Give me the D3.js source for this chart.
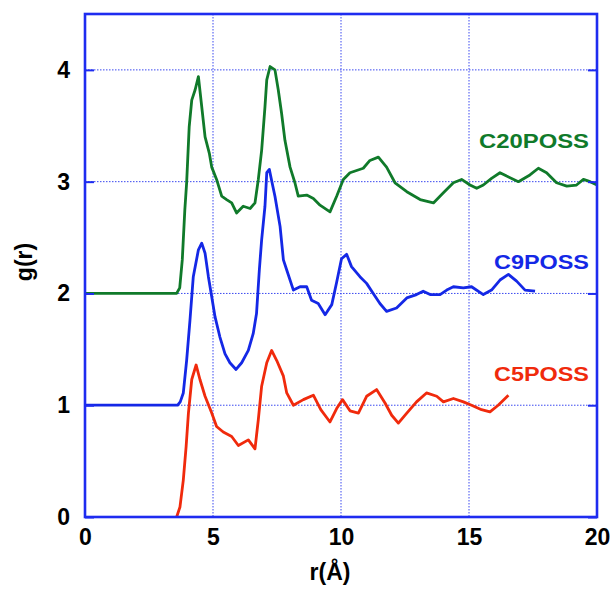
<!DOCTYPE html>
<html>

<head>
    <meta charset="utf-8">
    <title>g(r) POSS</title>
    <script src="https://d3js.org/d3.v7.min.js"></script>
    <style>
        body { margin: 0; background: #fff; }
        text { font-family: "Liberation Sans", Arial, Helvetica, sans-serif; font-weight: bold; }
    </style>
</head>

<body>
<script>
    // values (curves already shifted: C9 by +1, C20 by +2)
    var seriesNames = ["C20POSS", "C9POSS", "C5POSS"];
    var seriesColors = ["#107a2a", "#1428e6", "#f02a0c"];

    var rC20 = [0, 3.58, 3.7, 3.8, 3.9, 3.97, 4.07, 4.17, 4.3, 4.43, 4.56, 4.69, 4.86, 4.95, 5.14, 5.34, 5.53, 5.73, 5.92, 6.18, 6.45, 6.64, 6.77, 6.9, 7.03, 7.1, 7.23, 7.42, 7.55, 7.68, 7.81, 8.01, 8.2, 8.33, 8.66, 8.92, 9.18, 9.57, 9.83, 10.09, 10.35, 10.87, 11.13, 11.46, 11.78, 12.11, 12.57, 13.09, 13.61, 14.0, 14.39, 14.71, 15.04, 15.3, 15.56, 15.88, 16.21, 16.47, 16.93, 17.38, 17.71, 18.03, 18.42, 18.82, 19.2, 19.47, 19.73, 20];
    var gC20 = [2, 2, 2.05, 2.3, 2.75, 2.99, 3.49, 3.73, 3.82, 3.94, 3.67, 3.4, 3.25, 3.13, 3.02, 2.87, 2.84, 2.81, 2.72, 2.78, 2.76, 2.81, 3.02, 3.28, 3.67, 3.91, 4.03, 4.0, 3.82, 3.61, 3.37, 3.13, 2.99, 2.87, 2.88, 2.85, 2.79, 2.73, 2.87, 3.02, 3.08, 3.12, 3.19, 3.22, 3.13, 2.99, 2.91, 2.84, 2.81, 2.9, 2.99, 3.02, 2.97, 2.94, 2.97, 3.03, 3.08, 3.05, 3.0, 3.06, 3.12, 3.08, 2.99, 2.96, 2.97, 3.02, 3.0, 2.97];

    var rC9 = [0, 3.62, 3.72, 3.84, 3.97, 4.1, 4.23, 4.43, 4.56, 4.69, 4.82, 4.95, 5.08, 5.27, 5.47, 5.66, 5.9, 6.12, 6.38, 6.57, 6.7, 6.81, 6.9, 7.03, 7.1, 7.2, 7.3, 7.42, 7.62, 7.75, 7.88, 8.14, 8.4, 8.66, 8.85, 9.11, 9.38, 9.64, 9.83, 10.02, 10.22, 10.41, 10.74, 11.0, 11.26, 11.52, 11.78, 12.17, 12.57, 12.95, 13.21, 13.48, 13.87, 14.13, 14.39, 14.78, 15.1, 15.56, 15.88, 16.21, 16.54, 16.86, 17.19, 17.58];
    var gC9 = [1, 1, 1.03, 1.11, 1.4, 1.76, 2.15, 2.39, 2.45, 2.36, 2.15, 1.97, 1.79, 1.61, 1.46, 1.38, 1.32, 1.38, 1.49, 1.64, 1.82, 2.21, 2.48, 2.78, 3.08, 3.11, 3.0, 2.87, 2.6, 2.3, 2.21, 2.03, 2.06, 2.06, 1.94, 1.91, 1.81, 1.9, 2.1, 2.31, 2.35, 2.24, 2.15, 2.09, 2.0, 1.91, 1.84, 1.87, 1.96, 1.99, 2.02, 1.99, 1.99, 2.03, 2.06, 2.05, 2.06, 1.99, 2.03, 2.12, 2.17, 2.11, 2.03, 2.02];

    var rC5 = [3.58, 3.71, 3.84, 3.95, 4.04, 4.17, 4.34, 4.49, 4.69, 4.95, 5.14, 5.4, 5.73, 5.99, 6.38, 6.64, 6.77, 6.9, 7.1, 7.29, 7.49, 7.75, 7.88, 8.14, 8.53, 8.92, 9.21, 9.57, 9.83, 10.06, 10.35, 10.68, 11.0, 11.39, 11.72, 11.98, 12.24, 12.57, 12.95, 13.34, 13.74, 14.0, 14.39, 14.78, 15.1, 15.49, 15.82, 16.14, 16.54];
    var gC5 = [0, 0.09, 0.33, 0.63, 0.93, 1.23, 1.36, 1.23, 1.08, 0.93, 0.81, 0.76, 0.72, 0.64, 0.69, 0.61, 0.87, 1.17, 1.38, 1.49, 1.4, 1.26, 1.11, 1.0, 1.05, 1.09, 0.96, 0.85, 0.97, 1.05, 0.95, 0.93, 1.08, 1.14, 1.02, 0.91, 0.84, 0.93, 1.03, 1.11, 1.08, 1.03, 1.06, 1.03, 1.0, 0.96, 0.94, 1.0, 1.09];

    var xTicks = [0, 5, 10, 15, 20];
    var yTicks = [0, 1, 2, 3, 4];

    var frameBlue = "#1e2cf0";

    var margin = {top: 14, right: 19, bottom: 72, left: 85},
        width = 616 - margin.left - margin.right,
        height = 589 - margin.top - margin.bottom;

    var svg = d3.select("body")
        .append("svg")
        .attr("width", 616)
        .attr("height", 589);

    var g = svg.append("g")
        .attr("transform", "translate(" + margin.left + "," + margin.top + ")");

    var x = d3.scaleLinear().domain([0, 20]).range([0, width]);
    var y = d3.scaleLinear().domain([0, 4.5]).range([height, 0]);

    // dotted grid
    g.append("g")
        .attr("class", "grid")
        .selectAll("line.v")
        .data(xTicks.slice(1, -1))
        .enter()
        .append("line")
        .attr("x1", function(d) { return x(d); })
        .attr("x2", function(d) { return x(d); })
        .attr("y1", 0)
        .attr("y2", height);
    g.select(".grid")
        .selectAll("line.h")
        .data(yTicks.slice(1))
        .enter()
        .append("line")
        .attr("x1", 0)
        .attr("x2", width)
        .attr("y1", function(d) { return y(d); })
        .attr("y2", function(d) { return y(d); });
    g.selectAll(".grid line")
        .attr("stroke", "#3a48f0")
        .attr("stroke-width", 1)
        .attr("stroke-dasharray", "1.5,1.5");

    // curves
    var pairs = [[rC20, gC20], [rC9, gC9], [rC5, gC5]];
    var line = d3.line()
        .x(function(d) { return x(d[0]); })
        .y(function(d) { return y(d[1]); });

    pairs.forEach(function(p, i) {
        g.append("path")
            .datum(p[0].map(function(r, j) { return [r, p[1][j]]; }))
            .attr("fill", "none")
            .attr("stroke", seriesColors[i])
            .attr("stroke-width", 2.8)
            .attr("stroke-linejoin", "round")
            .attr("d", line);
    });

    // axes
    var yAxis = g.append("g")
        .call(d3.axisLeft(y).tickValues(yTicks).tickFormat(d3.format("d")).tickSize(-9).tickPadding(15));
    var yRight = g.append("g")
        .attr("transform", "translate(" + width + ",0)")
        .call(d3.axisRight(y).tickValues(yTicks).tickSize(-9).tickFormat(""));
    var xAxis = g.append("g")
        .attr("transform", "translate(0," + height + ")")
        .call(d3.axisBottom(x).tickValues(xTicks).tickFormat(d3.format("d")).tickSize(0).tickPadding(12));

    [yAxis, yRight, xAxis].forEach(function(a) {
        a.select(".domain").remove();
        a.selectAll(".tick line").attr("stroke", frameBlue).attr("stroke-width", 2);
        a.selectAll("text")
            .attr("fill", "#000")
            .style("font-size", "23px")
            .style("font-family", "'Liberation Sans', Arial, sans-serif")
            .style("font-weight", "bold");
    });

    // frame
    g.append("rect")
        .attr("width", width)
        .attr("height", height)
        .attr("fill", "none")
        .attr("stroke", frameBlue)
        .attr("stroke-width", 2.6);

    // axis titles
    svg.append("text")
        .attr("x", 330)
        .attr("y", 580)
        .attr("text-anchor", "middle")
        .style("font-size", "23px")
        .text("r(Å)");
    svg.append("text")
        .attr("transform", "translate(32,262)rotate(-90)")
        .attr("text-anchor", "middle")
        .style("font-size", "23px")
        .text("g(r)");

    // series labels
    var labelY = [3.3, 2.22, 1.22];
    var labelLen = [110, 95, 95];
    seriesNames.forEach(function(n, i) {
        g.append("text")
            .attr("x", 504 - labelLen[i])
            .attr("y", y(labelY[i]))
            .attr("textLength", labelLen[i])
            .attr("lengthAdjust", "spacingAndGlyphs")
            .attr("fill", seriesColors[i])
            .style("font-size", "20px")
            .text(n);
    });
</script>
</body>

</html>
